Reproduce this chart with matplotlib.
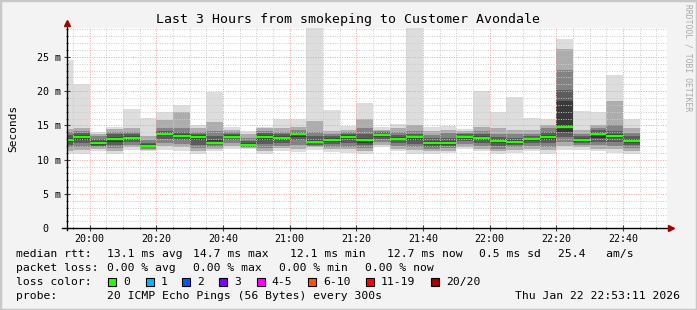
import matplotlib
matplotlib.use('Agg')
import matplotlib.pyplot as plt
from matplotlib.patches import Rectangle
from matplotlib.ticker import FuncFormatter, MultipleLocator
import numpy as np

# %% data -- one smokeping step (300 s) per bar, 20 pings each, values in ms
STEP = 5                      # minutes per bar
FIRST_END = 19 * 60 + 55      # end of the first (partly hidden) bar
X_START = 19 * 60 + 53 + 11 / 60
X_END = 22 * 60 + 53 + 11 / 60

median = [12.87, 13.35, 12.43, 13.00, 13.20, 12.05, 13.75, 13.50, 13.35, 12.48,
          13.35, 12.19, 13.35, 13.20, 13.75, 12.62, 12.92, 13.35, 12.92, 13.65,
          13.06, 13.26, 12.43, 12.43, 13.30, 13.20, 12.77, 12.58, 12.97, 13.30,
          14.77, 12.92, 13.80, 13.50, 12.77]

# smoke bands, outermost (min/max) first, innermost last
ping_min = [10.8, 10.9, 11.2, 10.9, 11.4, 11.2, 11.4, 11.2, 10.9, 11.2,
            11.6, 11.5, 10.9, 11.3, 11.1, 11.4, 11.1, 11.0, 10.8, 11.8,
            11.2, 10.9, 10.9, 11.0, 11.6, 11.2, 10.8, 11.0, 11.2, 10.9,
            11.4, 11.4, 11.2, 11.0, 10.9]
ping_max = [24.5, 21.0, 14.1, 14.8, 17.4, 16.1, 17.0, 18.0, 15.1, 19.8,
            14.7, 14.2, 14.8, 15.9, 15.9, 29.5, 17.2, 14.9, 18.3, 14.7,
            15.2, 29.5, 14.7, 14.9, 14.5, 20.0, 16.9, 19.2, 16.1, 16.0,
            27.6, 17.1, 16.9, 22.4, 16.0]
band2_lo = [11.3, 11.4, 11.5, 11.3, 11.8, 11.4, 12.0, 11.8, 11.3, 11.5,
            12.0, 11.7, 11.2, 11.7, 11.6, 11.8, 11.5, 11.5, 11.3, 12.2,
            11.6, 11.4, 11.2, 11.3, 11.9, 11.6, 11.2, 11.4, 11.6, 11.4,
            12.0, 11.8, 11.6, 11.5, 11.3]
band2_hi = [14.5, 14.6, 13.8, 14.5, 14.6, 13.5, 15.8, 17.0, 14.6, 15.5,
            14.4, 13.7, 14.6, 14.6, 14.8, 15.6, 14.2, 14.4, 16.0, 14.4,
            14.6, 15.0, 14.2, 14.4, 14.2, 14.8, 14.6, 14.4, 14.4, 15.0,
            26.2, 14.4, 15.0, 18.6, 14.6]
band3_lo = [11.8, 11.9, 11.8, 11.7, 12.2, 11.6, 12.5, 12.3, 11.7, 11.8,
            12.4, 11.8, 11.7, 12.0, 12.2, 12.0, 11.9, 11.9, 11.7, 12.6,
            12.0, 11.8, 11.6, 11.7, 12.3, 12.0, 11.6, 11.8, 12.0, 11.9,
            12.6, 12.1, 12.1, 12.0, 11.7]
band3_hi = [14.0, 14.2, 13.4, 14.0, 14.1, 12.9, 14.6, 14.6, 14.1, 14.2,
            14.1, 13.2, 14.2, 14.1, 14.4, 14.1, 13.8, 14.0, 14.6, 14.2,
            14.0, 14.2, 13.6, 13.9, 13.9, 14.2, 13.8, 13.7, 13.8, 14.6,
            23.1, 13.8, 14.6, 15.0, 13.9]
band4_lo = [12.2, 12.4, 12.0, 12.2, 12.6, 11.8, 13.0, 12.8, 12.2, 12.1,
            12.8, 11.9, 12.3, 12.5, 12.8, 12.2, 12.3, 12.5, 12.1, 13.0,
            12.4, 12.3, 11.9, 12.0, 12.7, 12.5, 12.0, 12.1, 12.4, 12.5,
            13.3, 12.4, 12.6, 12.6, 12.1]
band4_hi = [13.6, 13.9, 13.0, 13.7, 13.7, 12.5, 14.2, 14.0, 13.8, 13.4,
            13.8, 12.7, 13.9, 13.7, 14.1, 13.4, 13.5, 13.8, 13.8, 14.0,
            13.6, 13.8, 13.1, 13.2, 13.7, 13.8, 13.3, 13.1, 13.4, 14.0,
            20.2, 13.4, 14.3, 14.2, 13.4]
band5_lo = [12.6, 12.9, 12.2, 12.6, 12.9, 11.9, 13.4, 13.2, 12.8, 12.3,
            13.1, 12.0, 12.9, 12.9, 13.3, 12.4, 12.6, 13.0, 12.5, 13.3,
            12.8, 12.8, 12.2, 12.2, 13.0, 12.9, 12.4, 12.3, 12.7, 12.9,
            14.0, 12.6, 13.2, 13.1, 12.5]
band5_hi = [13.2, 13.6, 12.7, 13.3, 13.4, 12.3, 14.0, 13.7, 13.6, 12.8,
            13.6, 12.4, 13.6, 13.4, 13.9, 12.9, 13.2, 13.6, 13.2, 13.8,
            13.3, 13.5, 12.7, 12.7, 13.5, 13.5, 13.0, 12.8, 13.2, 13.6,
            18.5, 13.1, 14.0, 13.8, 13.0]

bands = [(ping_min, ping_max), (band2_lo, band2_hi), (band3_lo, band3_hi),
         (band4_lo, band4_hi), (band5_lo, band5_hi)]
band_grey = ['#dddddd', '#adadad', '#838383', '#5c5c5c', '#383838']

loss_labels = ['0', '1', '2', '3', '4-5', '6-10', '11-19', '20/20']
loss_colors = ['#26ff00', '#00b8ff', '#0059ff', '#7e00ff', '#ff00ff',
               '#ff5500', '#ff0000', '#a10000']

MONO = 'DejaVu Sans Mono'
W, H = 697, 310

# %% figure
fig = plt.figure(figsize=(W / 100, H / 100), dpi=100, facecolor='#f3f3f3')
ax = fig.add_axes([67 / W, (H - 228.3) / H, 600 / W, 200.3 / H])
ax.set_facecolor('white')

bar_end = FIRST_END + STEP * np.arange(len(median))
bar_start = bar_end - STEP

for (lo, hi), grey in zip(bands, band_grey):
    lo = np.array(lo)
    hi = np.array(hi)
    ax.bar(bar_start, hi - lo, bottom=lo, width=STEP, align='edge',
           color=grey, linewidth=0, zorder=1)

ax.hlines(median, bar_start, bar_end, color=loss_colors[0], lw=1.7, zorder=4)

ax.set_xlim(X_START, X_END)
ax.set_ylim(0, 29.2)

# grid
ax.xaxis.set_major_locator(MultipleLocator(20))
ax.xaxis.set_minor_locator(MultipleLocator(5))
ax.yaxis.set_major_locator(MultipleLocator(5))
ax.yaxis.set_minor_locator(MultipleLocator(1))
ax.grid(which='minor', color='#cccccc', lw=0.7, ls=(0, (1, 1.5)), zorder=3)
ax.grid(which='major', color='#f0a0a0', lw=0.7, ls=(0, (1, 1.5)), zorder=3)
ax.set_axisbelow(False)

ax.xaxis.set_major_formatter(FuncFormatter(lambda v, p: f"{int(v) // 60:02d}:{int(v) % 60:02d}"))
ax.yaxis.set_major_formatter(FuncFormatter(lambda v, p: "0  " if v == 0 else f"{v:.0f} m"))
ax.tick_params(which='both', labelsize=7.2, direction='inout', color='#444444', width=0.8)
ax.tick_params(which='major', length=4, pad=2)
ax.tick_params(which='minor', length=2)
for lab in ax.get_xticklabels() + ax.get_yticklabels():
    lab.set_family(MONO)

for s in ax.spines.values():
    s.set_visible(False)
ax.plot([0, 0], [-0.01, 1.025], transform=ax.transAxes, color='black', lw=1, clip_on=False, zorder=5)
ax.plot([-0.008, 1.006], [0, 0], transform=ax.transAxes, color='black', lw=1, clip_on=False, zorder=5)
ax.plot([0], [1.025], marker='^', ms=4.5, color='#a00000', transform=ax.transAxes, clip_on=False, zorder=6)
ax.plot([1.006], [0], marker='>', ms=4.5, color='#a00000', transform=ax.transAxes, clip_on=False, zorder=6)

ax.set_ylabel('Seconds', family=MONO, fontsize=8)
ax.yaxis.set_label_coords(-0.082, 0.5)

# %% texts
def px(x, y):
    return x / W, (H - y) / H

fig.text(*px(348, 19), 'Last 3 Hours from smokeping to Customer Avondale',
         family=MONO, fontsize=9.5, ha='center', va='center')
fig.text(*px(688, 4), 'RRDTOOL / TOBI OETIKER', family=MONO, fontsize=5.8,
         color='#a8a8a8', rotation=270, ha='center', va='top')

LEG = 8.2
rows = [
    (254.3, [(16, 'median rtt:'), (107.3, '13.1 ms avg'), (193.3, '14.7 ms max'),
             (290, '12.1 ms min'), (386.7, '12.7 ms now'), (479.3, '0.5 ms sd'),
             (558.3, '25.4   am/s')]),
    (268.3, [(16, 'packet loss:'), (107.3, '0.00 % avg'), (193.3, '0.00 % max'),
             (279.3, '0.00 % min'), (365, '0.00 % now')]),
    (296.3, [(16, 'probe:'), (107.3, '20 ICMP Echo Pings (56 Bytes) every 300s')]),
]
for y, items in rows:
    for x, s in items:
        fig.text(*px(x, y), s, family=MONO, fontsize=LEG, ha='left', va='center')
fig.text(*px(680, 296.3), 'Thu Jan 22 22:53:11 2026', family=MONO, fontsize=LEG,
         ha='right', va='center')

fig.text(*px(16, 282), 'loss color:', family=MONO, fontsize=LEG, ha='left', va='center')
box_x = [108.3, 145.7, 182.3, 219.3, 256.7, 308.3, 366, 430.7]
for bx, lab, col in zip(box_x, loss_labels, loss_colors):
    fig.add_artist(Rectangle(px(bx, 286), 8 / W, 8 / H, transform=fig.transFigure,
                             facecolor=col, edgecolor='black', lw=0.8))
    fig.text(*px(bx + 15, 282), lab, family=MONO, fontsize=LEG, ha='left', va='center')

# frame
fig.add_artist(Rectangle((0, 0), 1, 1, transform=fig.transFigure, fill=False,
                         edgecolor='#c8c8c8', lw=2.5))

fig.savefig('out.png', dpi=100, facecolor=fig.get_facecolor())
